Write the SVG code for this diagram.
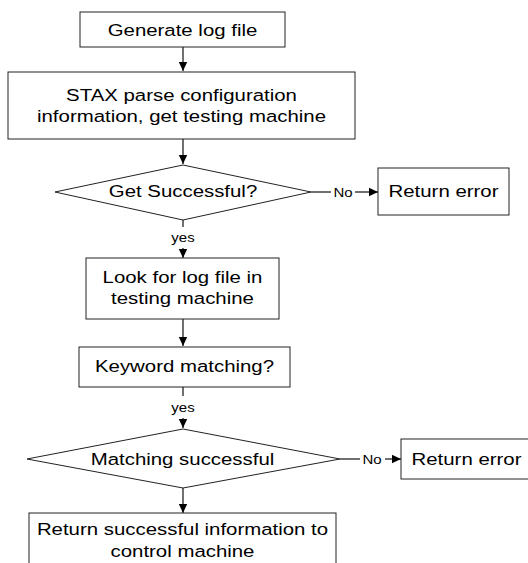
<svg xmlns="http://www.w3.org/2000/svg" width="528" height="563" viewBox="0 0 528 563">
<defs>
<style>
.box{fill:#fff;stroke:#222;stroke-width:1}
.ln{stroke:#111;stroke-width:1.2;fill:none}
.t{font-family:"Liberation Sans",Arial,sans-serif;font-size:17px;fill:#000;text-anchor:middle}
.s{font-family:"Liberation Sans",Arial,sans-serif;font-size:12.5px;fill:#000;text-anchor:middle}
</style>
<marker id="ah" markerWidth="10" markerHeight="10" refX="9" refY="5" orient="auto" markerUnits="userSpaceOnUse">
<path d="M0,0.8 L9,5 L0,9.2 Z" fill="#000"/>
</marker>
</defs>
<rect width="528" height="563" fill="#fff"/>
<g id="connectors">
<line class="ln" x1="183" y1="47" x2="183" y2="71" marker-end="url(#ah)"/>
<line class="ln" x1="183" y1="139" x2="183" y2="164" marker-end="url(#ah)"/>
<line class="ln" x1="183" y1="220" x2="183" y2="227"/>
<line class="ln" x1="183" y1="248" x2="183" y2="258" marker-end="url(#ah)"/>
<line class="ln" x1="183" y1="319" x2="183" y2="346" marker-end="url(#ah)"/>
<line class="ln" x1="183" y1="387" x2="183" y2="396"/>
<line class="ln" x1="183" y1="418" x2="183" y2="428" marker-end="url(#ah)"/>
<line class="ln" x1="183" y1="488" x2="183" y2="513" marker-end="url(#ah)"/>
<line class="ln" x1="311" y1="192" x2="331" y2="192"/>
<line class="ln" x1="355" y1="192" x2="378" y2="192" marker-end="url(#ah)"/>
<line class="ln" x1="340" y1="459" x2="360" y2="459"/>
<line class="ln" x1="385" y1="459" x2="401" y2="459" marker-end="url(#ah)"/>
<text class="s" transform="translate(343,197) scale(1.2,1)">No</text>
<text class="s" transform="translate(372,464) scale(1.2,1)">No</text>
<text class="s" transform="translate(183,242) scale(1.2,1)">yes</text>
<text class="s" transform="translate(183,412) scale(1.2,1)">yes</text>
</g>
<g id="n1">
<rect class="box" x="80" y="12" width="205" height="35"/>
<text class="t" transform="translate(182.5,36) scale(1.2,1)">Generate log file</text>
</g>
<g id="n2">
<rect class="box" x="8" y="72" width="347" height="67"/>
<text class="t" transform="translate(181.5,101) scale(1.2,1)">STAX parse configuration</text>
<text class="t" transform="translate(181.5,122) scale(1.2,1)">information, get testing machine</text>
</g>
<g id="d1">
<polygon class="box" points="183,165 311,192 183,220 55,192"/>
<text class="t" transform="translate(183,197) scale(1.2,1)">Get Successful?</text>
</g>
<g id="e1">
<rect class="box" x="378" y="168" width="131" height="47"/>
<text class="t" transform="translate(443.5,197) scale(1.2,1)">Return error</text>
</g>
<g id="n3">
<rect class="box" x="86" y="258" width="193" height="61"/>
<text class="t" transform="translate(182.5,283) scale(1.2,1)">Look for log file in</text>
<text class="t" transform="translate(182.5,304) scale(1.2,1)">testing machine</text>
</g>
<g id="n4">
<rect class="box" x="79" y="347" width="211" height="40"/>
<text class="t" transform="translate(184.5,372) scale(1.2,1)">Keyword matching?</text>
</g>
<g id="d2">
<polygon class="box" points="183,429 340,459 183,488 27,459"/>
<text class="t" transform="translate(182.5,465) scale(1.2,1)">Matching successful</text>
</g>
<g id="e2">
<rect class="box" x="401" y="439" width="131" height="40"/>
<text class="t" transform="translate(466.5,465) scale(1.2,1)">Return error</text>
</g>
<g id="n5">
<rect class="box" x="29" y="513" width="307" height="60"/>
<text class="t" transform="translate(182.5,535) scale(1.2,1)">Return successful information to</text>
<text class="t" transform="translate(182.5,557) scale(1.2,1)">control machine</text>
</g>
</svg>
